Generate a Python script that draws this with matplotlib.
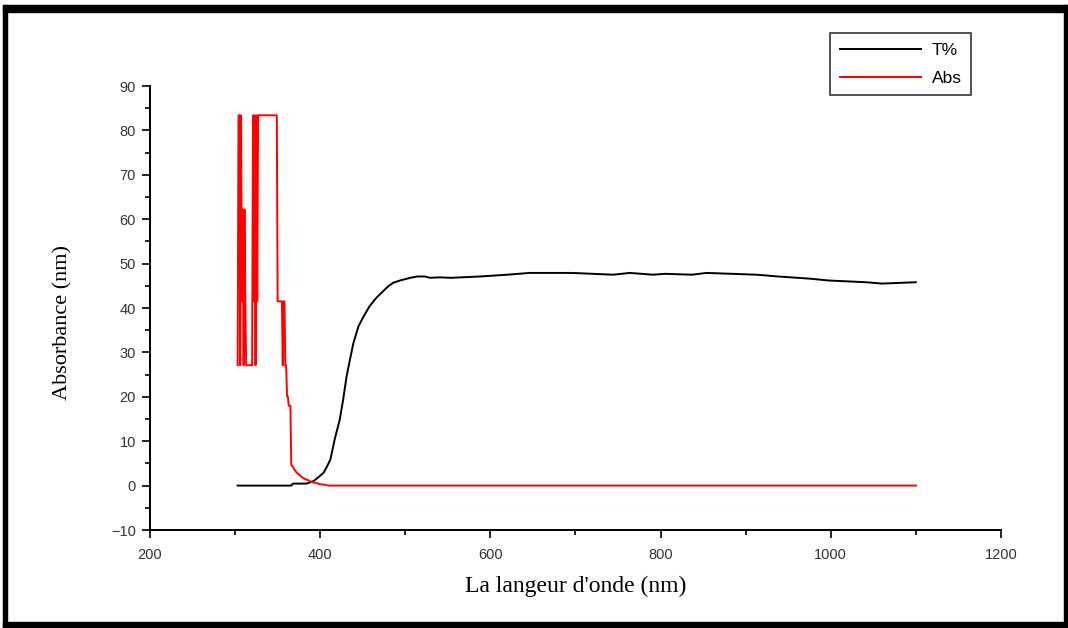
#!/usr/bin/env python3

import matplotlib
matplotlib.use("Agg")
import matplotlib.pyplot as plt
from matplotlib.patches import Rectangle
from matplotlib.ticker import MultipleLocator

# T% curve
t_wl = [303, 366, 368, 384, 392, 398, 404, 408, 412, 417, 423, 427, 431, 435, 439, 445,
        451, 458, 466, 474, 480, 486, 494, 506, 514, 523, 529, 540, 554, 588, 620, 646,
        696, 744, 764, 791, 805, 837, 854, 913, 938, 976, 997, 1042, 1060, 1100]
t_val = [0.0, 0.0, 0.45, 0.45, 1.0, 1.9, 2.9, 4.3, 5.9, 10.4, 14.9, 19.4, 24.6, 28.4, 32.1, 35.9,
         38.1, 40.4, 42.3, 43.8, 44.9, 45.7, 46.2, 46.8, 47.1, 47.1, 46.8, 46.9, 46.8, 47.1, 47.5, 47.9,
         47.9, 47.5, 47.9, 47.5, 47.7, 47.5, 47.9, 47.5, 47.1, 46.6, 46.2, 45.8, 45.5, 45.8]

# Abs curve
a_wl = [303, 304, 305, 306, 307, 308, 309, 310, 311, 312, 313, 314, 320, 321, 322, 323,
        324, 325, 326, 327, 349, 350, 355, 356, 357, 358, 359, 360, 361, 362, 363, 365,
        366, 368, 370, 372, 375, 378, 382, 386, 390, 395, 400, 405, 410, 1100]
a_val = [27.1, 83.4, 83.4, 27.1, 83.4, 41.5, 62.2, 27.1, 62.2, 41.5, 27.1, 27.1, 27.1, 83.4, 41.5, 83.4,
         27.1, 83.4, 41.5, 83.4, 83.4, 41.5, 41.5, 27.1, 41.5, 41.5, 27.1, 27.1, 20.1, 20.1, 18.0, 18.0,
         4.7, 4.2, 3.5, 3.0, 2.5, 2.0, 1.5, 1.2, 0.8, 0.6, 0.3, 0.2, 0.0, 0.0]

W, H = 1068, 628
fig = plt.figure(figsize=(W / 100, H / 100), dpi=100)
ax = fig.add_axes([150 / W, 1 - 530 / H, (1001 - 150) / W, (530 - 86) / H])

ax.plot(t_wl, t_val, color="black", lw=1.4, label="T%")
ax.plot(a_wl, a_val, color="red", lw=1.4, label="Abs")

ax.set_xlim(200, 1200)
ax.set_ylim(-10, 90)
ax.xaxis.set_major_locator(MultipleLocator(200))
ax.xaxis.set_minor_locator(MultipleLocator(100))
ax.yaxis.set_major_locator(MultipleLocator(10))
ax.yaxis.set_minor_locator(MultipleLocator(5))

ax.spines["top"].set_visible(False)
ax.spines["right"].set_visible(False)
ax.spines["left"].set_linewidth(1.4)
ax.spines["bottom"].set_linewidth(1.4)
ax.tick_params(which="major", direction="out", length=6, width=1.2, labelsize=10.5, pad=4)
ax.tick_params(axis="x", which="major", pad=7)
ax.tick_params(which="minor", direction="out", length=3.5, width=1.2)
for lab in ax.get_xticklabels() + ax.get_yticklabels():
    lab.set_family("Liberation Sans")
    lab.set_color("#333333")

ax.set_xlabel("La langeur d'onde (nm)", family="Liberation Serif", fontsize=17)
ax.xaxis.set_label_coords(0.5, (530 - 586) / 444)
ax.set_ylabel("Absorbance (nm)", family="Liberation Serif", fontsize=16)
ax.yaxis.set_label_coords((63 - 150) / 851, (530 - 322) / 444)
ax.yaxis.label.set_verticalalignment("center")
ax.xaxis.label.set_verticalalignment("center")

leg = ax.legend(loc="upper left", bbox_to_anchor=(830 / W, 1 - 33 / H),
                bbox_transform=fig.transFigure, borderaxespad=0, fancybox=False,
                frameon=True, handlelength=4.7, handletextpad=0.6, labelspacing=0.75,
                borderpad=0.55, prop={"family": "Liberation Sans", "size": 12.5})
leg.get_frame().set_edgecolor("black")
leg.get_frame().set_linewidth(1.2)

# black picture frame
for x0, y0, w, h in [(3, 5, 1065, 7), (3, 5, 4, 623), (1064, 5, 4, 623), (3, 622, 1065, 6)]:
    fig.patches.append(Rectangle((x0 / W, 1 - (y0 + h) / H), w / W, h / H,
                                 transform=fig.transFigure, color="black", zorder=10))

fig.savefig("out.png", dpi=100)
